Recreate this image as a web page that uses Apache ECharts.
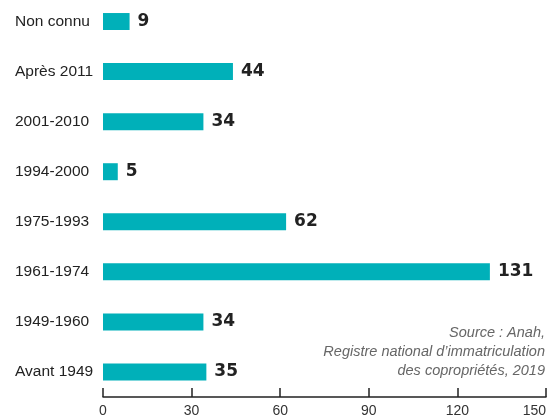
<!DOCTYPE html>
<html><head><meta charset="utf-8">
<script src="https://cdn.jsdelivr.net/npm/echarts@6/dist/echarts.min.js"></script>
<style>html,body{margin:0;padding:0;background:#fff}#c{width:549px;height:418px}</style>
</head><body><div id="c"></div>
<script>
const categories = ["Non connu","Après 2011","2001-2010","1994-2000","1975-1993","1961-1974","1949-1960","Avant 1949"];
const values = [9,44,34,5,62,131,34,35];
const xTicks = [0,30,60,90,120,150];
const sourceLines = ["Source : Anah,","Registre national d’immatriculation","des copropriétés, 2019"];

const chart = echarts.init(document.getElementById('c'), null, {renderer:'canvas'});
chart.setOption({
  animation:false,
  grid:{left:103,right:3,top:-3.5,bottom:21,containLabel:false,outerBoundsMode:'none'},
  xAxis:{type:'value',min:xTicks[0],max:xTicks[xTicks.length-1],interval:30,
    axisLine:{show:true,lineStyle:{color:'#222',width:1.5}},
    axisTick:{show:true,inside:true,length:9,lineStyle:{color:'#222',width:1.5}},
    splitLine:{show:false},
    axisLabel:{color:'#333',fontSize:14,fontFamily:'Liberation Sans, Arial, sans-serif',margin:7,showMaxLabel:true,alignMaxLabel:'right'}
  },
  yAxis:{type:'category',data:categories,inverse:true,
    axisLine:{show:false},axisTick:{show:false},
    axisLabel:{color:'#222',fontSize:15.5,fontFamily:'Liberation Sans, Arial, sans-serif',align:'left',margin:88}
  },
  series:[{type:'bar',data:values,barWidth:17,itemStyle:{color:'#00b0b9'},
    label:{show:true,position:'right',distance:8,color:'#222',fontSize:17,fontWeight:900,fontFamily:'DejaVu Sans, Liberation Sans, sans-serif'}
  }],
  graphic: sourceLines.map((t,i)=>({type:'text',x:545,y:325+i*19,style:{text:t,align:'right',verticalAlign:'top',fill:'#666',font:'italic 14.5px "Liberation Sans", sans-serif'}}))
});
</script></body></html>
